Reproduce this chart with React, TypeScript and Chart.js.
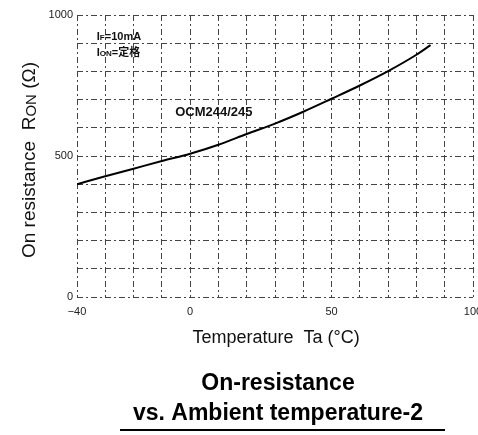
import React, { useEffect, useRef } from "react";
import { Chart, registerables } from "chart.js";

Chart.register(...registerables);

const temperatures = [-40, -30, -20, -10, 0, 10, 20, 30, 40, 50, 60, 70, 80, 85];
const resistance = [400, 428, 455, 482, 508, 540, 578, 615, 657, 703, 750, 801, 859, 893];
const xLabelValues = [-40, 0, 50, 100];
const yLabelValues = [0, 500, 1000];
const seriesName = "OCM244/245";
const titleLine1 = "On-resistance";
const titleLine2 = "vs. Ambient temperature-2";
const xTitle = "Temperature  Ta (°C)";

const FONT = "'Liberation Sans', Arial, Helvetica, sans-serif";

const textPlugin = {
  id: "textPlugin",
  afterDraw(chart: any) {
    const ctx = chart.ctx;
    const xs = chart.scales.x;
    const ys = chart.scales.y;
    ctx.save();
    ctx.fillStyle = "#111";
    ctx.textBaseline = "middle";

    // Annotation: IF=10mA
    let px = xs.getPixelForValue(-33);
    let py = ys.getPixelForValue(922);
    ctx.textAlign = "left";
    ctx.font = `bold 11px ${FONT}`;
    ctx.fillText("I", px, py);
    let w = ctx.measureText("I").width;
    ctx.font = `bold 8px ${FONT}`;
    ctx.fillText("F", px + w, py + 1);
    w += ctx.measureText("F").width;
    ctx.font = `bold 11px ${FONT}`;
    ctx.fillText("=10mA", px + w, py);

    // Annotation: ION=定格
    py = ys.getPixelForValue(865);
    ctx.font = `bold 11px ${FONT}`;
    ctx.fillText("I", px, py);
    w = ctx.measureText("I").width;
    ctx.font = `bold 8px ${FONT}`;
    ctx.fillText("ON", px + w, py + 1);
    w += ctx.measureText("ON").width;
    ctx.font = `bold 11px ${FONT}, 'Noto Sans CJK JP'`;
    ctx.fillText("=定格", px + w, py);

    // Series label
    ctx.font = `bold 13px ${FONT}`;
    ctx.fillText(seriesName, xs.getPixelForValue(-5.3), ys.getPixelForValue(656));

    // X title
    ctx.textAlign = "center";
    ctx.font = `18px ${FONT}`;
    ctx.fillText(xTitle, 276, 338);

    // Y title (rotated) with subscript
    ctx.save();
    ctx.translate(30, 160);
    ctx.rotate(-Math.PI / 2);
    ctx.textAlign = "left";
    const parts: [string, number, number][] = [
      ["On resistance  R", 19, 0],
      ["ON", 15, 2],
      [" (Ω)", 19, 0],
    ];
    let total = 0;
    for (const [t, s] of parts) {
      ctx.font = `${s}px ${FONT}`;
      total += ctx.measureText(t).width;
    }
    let cx = -total / 2;
    for (const [t, s, dy] of parts) {
      ctx.font = `${s}px ${FONT}`;
      ctx.fillText(t, cx, dy);
      cx += ctx.measureText(t).width;
    }
    ctx.restore();

    // Title
    ctx.textAlign = "center";
    ctx.textBaseline = "alphabetic";
    ctx.fillStyle = "#000";
    ctx.font = `bold 23px ${FONT}`;
    ctx.fillText(titleLine1, 278, 390);
    ctx.fillText(titleLine2, 278, 420);
    ctx.fillRect(120, 429, 325, 2);

    ctx.restore();
  },
};

export default function App() {
  const ref = useRef<HTMLCanvasElement | null>(null);
  useEffect(() => {
    if (!ref.current) return;
    const chart = new Chart(ref.current, {
      type: "line",
      data: {
        datasets: [
          {
            label: seriesName,
            data: temperatures.map((t, i) => ({ x: t, y: resistance[i] })),
            borderColor: "#000",
            borderWidth: 2,
            pointRadius: 0,
            cubicInterpolationMode: "monotone",
            fill: false,
          },
        ],
      },
      options: {
        responsive: false,
        animation: false,
        layout: { padding: { top: 15, right: 5, left: 0, bottom: 0 } },
        plugins: {
          legend: { display: false },
          tooltip: { enabled: false },
          title: { display: false },
        },
        scales: {
          x: {
            type: "linear",
            min: -40,
            max: 100,
            afterFit(scale: any) {
              scale.height = 138;
              scale.paddingLeft = 0;
              scale.paddingRight = 0;
            },
            ticks: {
              stepSize: 10,
              autoSkip: false,
              maxRotation: 0,
              padding: 8,
              color: "#222",
              font: { family: FONT, size: 11 },
              callback: (v: any) =>
                xLabelValues.includes(Number(v))
                  ? Number(v) < 0
                    ? "−" + Math.abs(Number(v))
                    : String(v)
                  : "",
            },
            grid: { color: "#444", lineWidth: 1, drawTicks: false },
            border: { display: false, dash: [6, 3, 2, 3] },
          },
          y: {
            min: 0,
            max: 1000,
            afterFit(scale: any) {
              scale.width = 77;
              scale.paddingTop = 0;
              scale.paddingBottom = 0;
            },
            ticks: {
              stepSize: 100,
              autoSkip: false,
              padding: 4,
              color: "#222",
              font: { family: FONT, size: 11 },
              callback: (v: any) => (yLabelValues.includes(Number(v)) ? String(v) : ""),
            },
            grid: { color: "#444", lineWidth: 1, drawTicks: false },
            border: { display: false, dash: [6, 3, 2, 3] },
          },
        },
      },
      plugins: [textPlugin],
    } as any);
    return () => chart.destroy();
  }, []);
  return (
    <div style={{ position: "absolute", left: 0, top: 0, width: 478, height: 435, background: "#fff" }}>
      <canvas ref={ref} width={478} height={435} />
    </div>
  );
}
